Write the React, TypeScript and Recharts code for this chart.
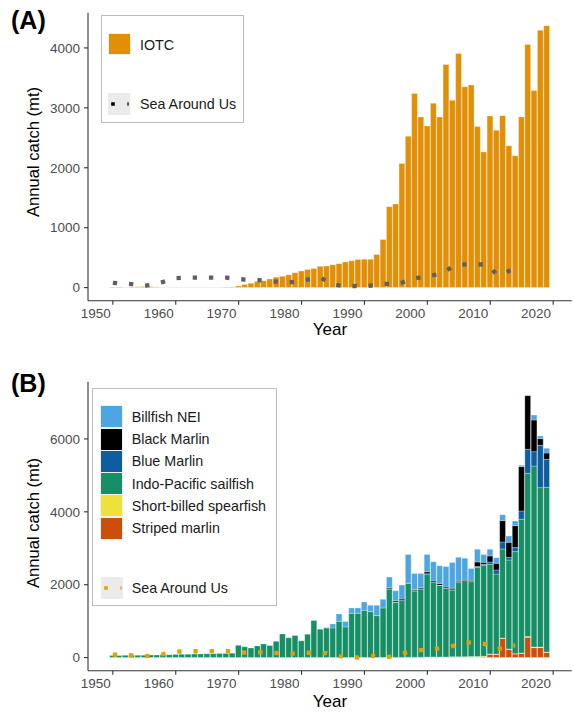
import React from "react";
import { ComposedChart, Bar, Line, XAxis, YAxis } from "recharts";

const FONT = "'Liberation Sans', Arial, sans-serif";

const years = [
  1950, 1951, 1952, 1953, 1954, 1955, 1956, 1957, 1958, 1959,
  1960, 1961, 1962, 1963, 1964, 1965, 1966, 1967, 1968, 1969,
  1970, 1971, 1972, 1973, 1974, 1975, 1976, 1977, 1978, 1979,
  1980, 1981, 1982, 1983, 1984, 1985, 1986, 1987, 1988, 1989,
  1990, 1991, 1992, 1993, 1994, 1995, 1996, 1997, 1998, 1999,
  2000, 2001, 2002, 2003, 2004, 2005, 2006, 2007, 2008, 2009,
  2010, 2011, 2012, 2013, 2014, 2015, 2016, 2017, 2018, 2019,
];

// panel A: IOTC total catch
const iotc = [
  12, 10, 8, 10, 14, 18, 15, 10, 8, 8,
  8, 8, 8, 8, 8, 8, 8, 8, 10, 12,
  28, 50, 72, 100, 116, 144, 172, 188, 216, 249,
  277, 303, 318, 355, 360, 382, 400, 426, 448, 470,
  472, 472, 554, 803, 1351, 1396, 2072, 2526, 3241, 2848,
  2698, 3075, 2848, 3724, 3125, 3906, 3352, 3380, 2687, 2265,
  2865, 2626, 2870, 2366, 2199, 2848, 4056, 3291, 4294, 4372,
];

// Sea Around Us (1950-2014)
const sauA = [
  80, 72, 65, 58, 45, 32, 45, 65, 95, 130,
  158, 162, 165, 166, 166, 166, 166, 166, 166, 155,
  143, 135, 130, 125, 118, 108, 100, 92, 86, 98,
  115, 135, 150, 165, 110, 55, 36, 30, 27, 24,
  22, 35, 50, 61, 61, 61, 85, 125, 155, 172,
  188, 208, 232, 280, 350, 378, 386, 393, 390, 385,
  340, 220, 230, 280, 300,
];

const sauB = [
  82, 75, 68, 60, 48, 38, 50, 72, 95, 130,
  160, 168, 172, 174, 174, 174, 176, 180, 183, 165,
  148, 138, 142, 146, 140, 132, 126, 112, 100, 115,
  130, 132, 130, 128, 120, 75, 40, 25, 10, 2,
  25, 45, 35, 22, 20, 65, 110, 150, 185, 205,
  220, 235, 255, 285, 315, 360, 415, 410, 395, 380,
  300, 225, 260, 320, 335,
];

// panel B: species (stacked bottom to top)
const striped = [
  0, 0, 0, 0, 0, 0, 0, 0, 0, 0,
  0, 0, 0, 0, 0, 0, 0, 0, 0, 0,
  0, 0, 0, 0, 0, 0, 0, 0, 0, 0,
  0, 0, 0, 0, 0, 0, 0, 0, 0, 0,
  0, 0, 0, 0, 0, 5, 5, 8, 8, 10,
  10, 12, 10, 10, 12, 10, 10, 12, 10, 15,
  91, 91, 530, 229, 101, 119, 558, 274, 274, 146,
];

const spearfish = [
  0, 0, 0, 0, 0, 0, 0, 0, 0, 0,
  0, 0, 0, 0, 0, 0, 0, 0, 0, 0,
  0, 0, 0, 0, 0, 0, 0, 0, 0, 0,
  0, 0, 0, 0, 0, 0, 0, 0, 0, 0,
  0, 0, 0, 0, 0, 0, 0, 0, 0, 0,
  5, 5, 5, 5, 8, 10, 12, 15, 20, 20,
  8, 5, 5, 5, 5, 5, 20, 15, 15, 5,
];

const sailfish = [
  60, 60, 62, 62, 64, 66, 68, 70, 75, 80,
  88, 90, 92, 95, 100, 105, 108, 110, 115, 122,
  335, 298, 265, 320, 375, 329, 445, 649, 545, 605,
  460, 640, 1020, 777, 815, 814, 997, 841, 1216, 1216,
  1299, 1262, 1152, 1363, 1884, 1513, 1559, 2031, 1821, 1874,
  2280, 2041, 1969, 1885, 1836, 2038, 2091, 2058, 2448, 2498,
  2462, 2199, 2446, 2445, 2802, 3671, 4479, 4969, 4375, 4522,
];

const blueMarlin = [
  0, 0, 0, 0, 0, 0, 0, 0, 0, 0,
  0, 0, 0, 0, 0, 0, 0, 0, 0, 0,
  0, 0, 0, 0, 0, 0, 0, 0, 0, 0,
  0, 0, 0, 0, 0, 0, 0, 0, 0, 0,
  0, 0, 0, 0, 5, 5, 5, 0, 5, 5,
  5, 5, 5, 5, 5, 5, 5, 5, 20, 25,
  64, 110, 192, 74, 110, 229, 659, 394, 1161, 768,
];

const blackMarlin = [
  0, 0, 0, 0, 0, 0, 0, 0, 0, 0,
  0, 0, 0, 0, 0, 0, 0, 0, 0, 0,
  0, 0, 0, 0, 0, 0, 0, 0, 0, 0,
  0, 0, 0, 0, 0, 0, 0, 0, 0, 0,
  0, 0, 0, 0, 36, 37, 36, 5, 27, 36,
  55, 36, 46, 30, 40, 35, 30, 30, 127, 57,
  164, 183, 586, 411, 603, 1216, 1472, 868, 183, 174,
];

const billfishNei = [
  0, 0, 0, 0, 0, 0, 0, 0, 0, 0,
  0, 0, 0, 0, 0, 0, 0, 0, 0, 0,
  0, 0, 0, 0, 0, 0, 0, 0, 0, 0,
  0, 0, 0, 0, 10, 110, 201, 147, 147, 147,
  228, 174, 284, 237, 284, 274, 384, 787, 449, 385,
  476, 531, 485, 562, 705, 655, 577, 322, 347, 211,
  183, 155, 164, 174, 128, 37, 18, 137, 73, 128,
];

const xTicks = [1950, 1960, 1970, 1980, 1990, 2000, 2010, 2020];
const yTicksA = [0, 1000, 2000, 3000, 4000];
const yTicksB = [0, 2000, 4000, 6000];

const speciesKeys = [
  { key: "striped", name: "Striped marlin", color: "#CC4E0C" },
  { key: "spearfish", name: "Short-billed spearfish", color: "#EDE13A" },
  { key: "sailfish", name: "Indo-Pacific sailfish", color: "#178F66" },
  { key: "blue", name: "Blue Marlin", color: "#0E5DA0" },
  { key: "black", name: "Black Marlin", color: "#000000" },
  { key: "nei", name: "Billfish NEI", color: "#4DA6E2" },
];

const dataA = years.map((y, i) => ({ year: y, iotc: iotc[i], sau: sauA[i] ?? null }));
const dataB = years.map((y, i) => ({
  year: y,
  striped: striped[i],
  spearfish: spearfish[i],
  sailfish: sailfish[i],
  blue: blueMarlin[i],
  black: blackMarlin[i],
  nei: billfishNei[i],
  sau: sauB[i] ?? null,
}));

const XTick = (props: any) => {
  const { x, y, payload } = props;
  return (
    <text x={x - 2} y={y + 11} textAnchor="end" fill="#4d4d4d" fontSize={13.5} fontFamily={FONT}>
      {payload.value}
    </text>
  );
};

const abs = (s: React.CSSProperties): React.CSSProperties => ({ position: "absolute", ...s });

const TextAt = ({ x, cy, children, size = 14.3, color = "#1a1a1a" }: any) => (
  <div style={abs({ left: x, top: cy - 9, height: 18, lineHeight: "18px", fontSize: size, color, whiteSpace: "nowrap" })}>
    {children}
  </div>
);

const DashKey = ({ left, top, color }: any) => (
  <svg style={abs({ left, top })} width={22.4} height={22}>
    <rect x={0} y={0} width={22.4} height={22} fill="#ebebeb" />
    <line x1={3.2} x2={20.6} y1={11} y2={11} stroke={color} strokeWidth={3.6} strokeDasharray="3.6 12.6" />
  </svg>
);

export default function App() {
  return (
    <div style={abs({ left: 0, top: 0, width: 574, height: 713, background: "#fff", fontFamily: FONT })}>
      <div style={abs({ left: 0, top: 0 })}>
        <ComposedChart width={574} height={345} data={dataA} margin={{ top: 12.7, right: 2.3, bottom: 0, left: 0 }}>
          <XAxis
            dataKey="year"
            type="number"
            domain={[1946.05, 2022.95]}
            allowDataOverflow
            ticks={xTicks}
            height={44.3}
            tick={<XTick />}
            tickSize={4}
            tickMargin={2}
            stroke="#333"
            strokeWidth={1.1}
          />
          <YAxis
            type="number"
            domain={[-218.5, 4588]}
            allowDataOverflow
            ticks={yTicksA}
            width={88}
            tickSize={4}
            tickMargin={4}
            stroke="#333"
            strokeWidth={1.1}
            tick={{ fill: "#4d4d4d", fontSize: 13.5, fontFamily: FONT }}
          />
          <Bar dataKey="iotc" fill="#E28F06" stroke="#fff" strokeWidth={0.3} barSize={5.8} isAnimationActive={false} />
          <Line
            dataKey="sau"
            type="linear"
            stroke="#5f5f5f"
            strokeWidth={4.3}
            strokeDasharray="4.3 11.9"
            dot={false}
            activeDot={false}
            isAnimationActive={false}
          />
        </ComposedChart>
      </div>

      <div style={abs({ left: 0, top: 360 })}>
        <ComposedChart width={574} height={353} data={dataB} margin={{ top: 21.7, right: 2.3, bottom: 0, left: 0 }}>
          <XAxis
            dataKey="year"
            type="number"
            domain={[1946.05, 2022.95]}
            allowDataOverflow
            ticks={xTicks}
            height={42.3}
            tick={<XTick />}
            tickSize={4}
            tickMargin={2}
            stroke="#333"
            strokeWidth={1.1}
          />
          <YAxis
            type="number"
            domain={[-360, 7571]}
            allowDataOverflow
            ticks={yTicksB}
            width={88}
            tickSize={4}
            tickMargin={4}
            stroke="#333"
            strokeWidth={1.1}
            tick={{ fill: "#4d4d4d", fontSize: 13.5, fontFamily: FONT }}
          />
          {speciesKeys.map((s) => (
            <Bar
              key={s.key}
              dataKey={s.key}
              stackId="b"
              fill={s.color}
              stroke="#fff"
              strokeWidth={0.3}
              barSize={5.8}
              isAnimationActive={false}
            />
          ))}
          <Line
            dataKey="sau"
            type="linear"
            stroke="#E69F00"
            strokeWidth={4.3}
            strokeDasharray="4.3 11.9"
            dot={false}
            activeDot={false}
            isAnimationActive={false}
          />
        </ComposedChart>
      </div>

      {/* panel letters and axis titles */}
      <div style={abs({ left: 11, top: 6, fontSize: 25, lineHeight: "28px", fontWeight: "bold", color: "#000" })}>(A)</div>
      <div style={abs({ left: 11, top: 369, fontSize: 25, lineHeight: "28px", fontWeight: "bold", color: "#000" })}>(B)</div>

      {[152, 523].map((cy) => (
        <div
          key={cy}
          style={abs({
            left: 34,
            top: cy,
            fontSize: 16.6,
            lineHeight: "18px",
            color: "#000",
            whiteSpace: "nowrap",
            transform: "translate(-50%, -50%) rotate(-90deg)",
          })}
        >
          Annual catch (mt)
        </div>
      ))}
      {[330, 702].map((cy) => (
        <div
          key={cy}
          style={abs({ left: 330, top: cy, fontSize: 17, lineHeight: "20px", color: "#000", transform: "translate(-50%, -50%)" })}
        >
          Year
        </div>
      ))}

      {/* legend A */}
      <div style={abs({ left: 100.7, top: 15, width: 143.3, height: 107.7, border: "1.5px solid #bdbdbd", boxSizing: "border-box", background: "#fff" })} />
      <div style={abs({ left: 109.3, top: 34.3, width: 20.7, height: 20, background: "#E28F06", outline: "1px solid #f0f0f0" })} />
      <TextAt x={140} cy={44.5}>IOTC</TextAt>
      <DashKey left={108.3} top={93} color="#000" />
      <TextAt x={140} cy={104}>Sea Around Us</TextAt>

      {/* legend B */}
      <div style={abs({ left: 92.3, top: 388.3, width: 184.4, height: 217.7, border: "1.5px solid #bdbdbd", boxSizing: "border-box", background: "#fff" })} />
      {[...speciesKeys].reverse().map((s, i) => (
        <React.Fragment key={s.key}>
          <div
            style={abs({
              left: 100.7,
              top: 416.7 + i * 22.3 - 10.5,
              width: 21,
              height: 21,
              background: s.color,
              outline: "1px solid #f0f0f0",
            })}
          />
          <TextAt x={131.7} cy={416.7 + i * 22.3}>{s.name}</TextAt>
        </React.Fragment>
      ))}
      <DashKey left={100.5} top={576.5} color="#E69F00" />
      <TextAt x={131.7} cy={587.7}>Sea Around Us</TextAt>
    </div>
  );
}
